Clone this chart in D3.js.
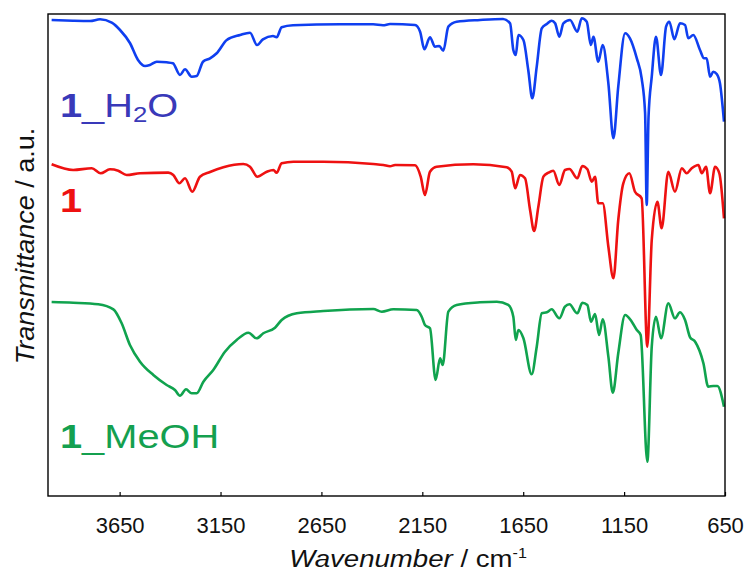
<!DOCTYPE html>
<html>
<head>
<meta charset="utf-8">
<script src="https://cdn.jsdelivr.net/npm/d3@7"></script>
<style>
body { margin: 0; background: #fff; }
text { font-family: "Liberation Sans", Arial, sans-serif; }
</style>
</head>
<body>
<svg id="irSvg" width="749" height="578"></svg>
<script>

// x ticks (wavenumber, cm-1)
var tickValues = [3650, 3150, 2650, 2150, 1650, 1150, 650];

// [wavenumber, transmittance a.u.], offsets included
var h2oSpectrum = [
	[3987,98.76],[3881,98.61],[3797,98.55],[3747,98.90],[3689,98.20],[3648,96.68],[3599,93.98],[3559,90.46],
	[3524,89.21],[3500,89.42],[3466,90.10],[3417,89.98],[3386,89.77],[3351,87.35],[3326,88.53],[3293,86.99],
	[3268,87.14],[3237,90.10],[3202,90.81],[3169,91.85],[3119,94.61],[3053,95.64],[3004,96.12],[2969,93.57],
	[2940,94.75],[2890,95.44],[2872,95.17],[2847,97.24],[2791,97.66],[2558,97.86],[2394,97.86],[2345,97.66],
	[2310,97.93],[2186,97.72],[2161,96.33],[2140,92.68],[2112,95.17],[2087,93.22],[2066,93.36],[2046,92.39],
	[2021,97.37],[1980,98.40],[1864,98.76],[1750,98.96],[1715,98.07],[1699,92.53],[1687,91.49],[1674,95.64],
	[1649,94.61],[1625,88.38],[1605,82.51],[1583,89.07],[1558,97.03],[1533,97.93],[1509,98.61],[1492,98.07],
	[1471,95.29],[1451,98.07],[1418,98.76],[1382,96.33],[1360,99.11],[1335,98.40],[1315,93.57],[1302,95.29],
	[1278,90.10],[1256,93.57],[1228,85.62],[1203,74.21],[1179,84.92],[1145,96.00],[1121,94.96],[1087,90.81],
	[1063,86.66],[1046,79.46],[1038,60.37],[1029,78.63],[1013,86.99],[992,95.29],[967,87.35],[942,97.37],
	[926,98.40],[901,94.75],[873,98.07],[848,97.72],[832,94.96],[807,95.64],[774,92.53],[754,90.81],
	[741,90.81],[724,86.99],[708,88.03],[691,87.55],[675,85.62],[655,77.66]
];

var baseSpectrum = [
	[3987,68.82],[3880,67.64],[3788,67.99],[3744,66.95],[3698,67.78],[3657,67.49],[3615,66.60],[3549,66.95],
	[3409,67.08],[3384,66.60],[3354,64.88],[3326,65.91],[3290,63.13],[3252,66.25],[3202,67.22],[3136,68.20],
	[3037,68.88],[3004,68.32],[2968,66.25],[2921,67.28],[2888,67.64],[2872,67.08],[2847,69.02],[2789,69.36],
	[2641,69.36],[2393,68.88],[2343,68.67],[2310,68.40],[2285,68.67],[2186,68.61],[2158,66.25],[2137,62.45],
	[2112,67.28],[2079,68.32],[1897,68.82],[1732,68.20],[1707,67.28],[1690,63.84],[1666,66.60],[1641,65.91],
	[1616,59.34],[1596,54.98],[1575,60.02],[1550,66.25],[1525,67.08],[1501,67.49],[1471,64.52],[1443,67.64],
	[1421,67.84],[1382,65.91],[1357,68.47],[1332,67.78],[1310,65.21],[1294,66.25],[1278,60.73],[1256,60.73],
	[1228,51.72],[1203,45.17],[1179,57.26],[1154,64.88],[1124,66.95],[1096,63.13],[1063,61.76],[1035,30.98],
	[1013,53.11],[985,61.06],[964,55.54],[931,67.28],[898,63.13],[864,67.99],[840,66.95],[815,67.99],
	[782,68.67],[765,66.95],[744,68.32],[724,62.80],[699,68.32],[678,66.95],[655,57.61]
];

var meohSpectrum = [
	[3987,40.25],[3880,40.10],[3756,39.77],[3681,38.73],[3640,35.83],[3599,31.33],[3549,27.86],[3483,25.10],
	[3417,23.03],[3376,21.99],[3351,20.81],[3321,22.14],[3293,21.31],[3268,21.31],[3235,23.71],[3186,26.14],
	[3128,29.94],[3070,32.37],[3012,33.88],[2971,32.72],[2938,33.76],[2880,34.92],[2847,36.51],[2772,37.90],
	[2641,38.38],[2393,38.80],[2351,38.24],[2294,38.73],[2178,38.59],[2153,37.20],[2137,35.48],[2112,34.79],
	[2084,24.07],[2062,28.57],[2049,27.18],[2021,38.24],[1980,39.63],[1864,40.19],[1781,40.31],[1724,39.63],
	[1699,37.20],[1687,32.37],[1674,34.44],[1649,32.72],[1608,25.25],[1583,30.98],[1558,37.90],[1533,38.11],
	[1509,38.73],[1471,36.87],[1443,39.27],[1421,39.77],[1382,37.90],[1357,40.10],[1332,39.63],[1314,36.16],
	[1294,37.76],[1274,33.40],[1256,36.66],[1228,28.90],[1206,21.43],[1179,29.61],[1145,37.55],[1112,36.16],
	[1087,34.44],[1068,33.40],[1035,7.12],[1013,30.98],[992,37.20],[967,32.72],[931,39.98],[898,36.87],
	[873,38.11],[848,36.51],[823,32.93],[798,32.01],[757,27.53],[733,22.68],[708,22.82],[688,22.82],
	[655,18.53]
];

var svg = d3.select("#irSvg");
// note: "top" is taken by window.top, so plot* names
var plotLeft = 48, plotRight = 725, plotTop = 14, plotBottom = 496;

var x = d3.scaleLinear().domain([4005, 650]).range([plotLeft, plotRight]);
var y = d3.scaleLinear().domain([0, 100]).range([plotBottom, plotTop]);

var line = d3.line()
	.x(function(d) { return x(d[0]); })
	.y(function(d) { return y(d[1]); })
	.curve(d3.curveMonotoneX);

// green under red under blue
var traces = [
	{data: meohSpectrum, color: "#10a34e"},
	{data: baseSpectrum, color: "#ee1111"},
	{data: h2oSpectrum, color: "#0f3ff0"}
];

svg.append("g").attr("class", "traces")
	.selectAll("path")
	.data(traces)
	.join("path")
	.attr("d", function(d) { return line(d.data); })
	.attr("fill", "none")
	.attr("stroke", function(d) { return d.color; })
	.attr("stroke-width", 2.6)
	.attr("stroke-linejoin", "round");

// frame
svg.append("rect")
	.attr("x", plotLeft).attr("y", plotTop)
	.attr("width", plotRight - plotLeft).attr("height", plotBottom - plotTop)
	.attr("fill", "none").attr("stroke", "#000").attr("stroke-width", 1.4);

var xAxis = svg.append("g")
	.attr("transform", "translate(0," + plotBottom + ")")
	.call(d3.axisBottom(x).tickValues(tickValues).tickSizeInner(-4).tickSizeOuter(0).tickPadding(21).tickFormat(d3.format("d")));
xAxis.select(".domain").remove();
xAxis.selectAll("line").attr("stroke", "#000").attr("stroke-width", 1.2);
xAxis.selectAll("text").attr("font-size", 22).attr("fill", "#111")
	.attr("font-family", "'Liberation Sans', Arial, sans-serif");

// axis titles
var xTitle = svg.append("text")
	.attr("transform", "translate(408,567) scale(1.15,1)")
	.attr("text-anchor", "middle").attr("font-size", 24).attr("fill", "#111");
xTitle.append("tspan").attr("font-style", "italic").text("Wavenumber");
xTitle.append("tspan").text(" / cm");
xTitle.append("tspan").attr("font-size", 14).attr("dy", -9).text("-1");

var yTitle = svg.append("text")
	.attr("transform", "translate(34,246) rotate(-90) scale(1.08,1)")
	.attr("text-anchor", "middle").attr("font-size", 25).attr("fill", "#111");
yTitle.append("tspan").attr("font-style", "italic").text("Transmittance");
yTitle.append("tspan").text(" / a.u.");

// series labels
function addLabel(px, py, color, parts) {
	var t = svg.append("text")
		.attr("transform", "translate(" + px + "," + py + ") scale(1.17,1)")
		.attr("font-size", 34).attr("fill", color);
	parts.forEach(function(p) {
		var s = t.append("tspan").text(p.text);
		if (p.bold) s.attr("font-weight", "bold");
		if (p.sub) s.attr("font-size", 22).attr("dy", 5);
		if (p.after) s.attr("dy", -5);
	});
}
addLabel(60, 117, "#3939b9", [{text: "1", bold: true}, {text: "_H"}, {text: "2", sub: true}, {text: "O", after: true}]);
addLabel(60, 212, "#ee1111", [{text: "1", bold: true}]);
addLabel(60, 448, "#14a04f", [{text: "1", bold: true}, {text: "_MeOH"}]);

</script>
</body>
</html>
